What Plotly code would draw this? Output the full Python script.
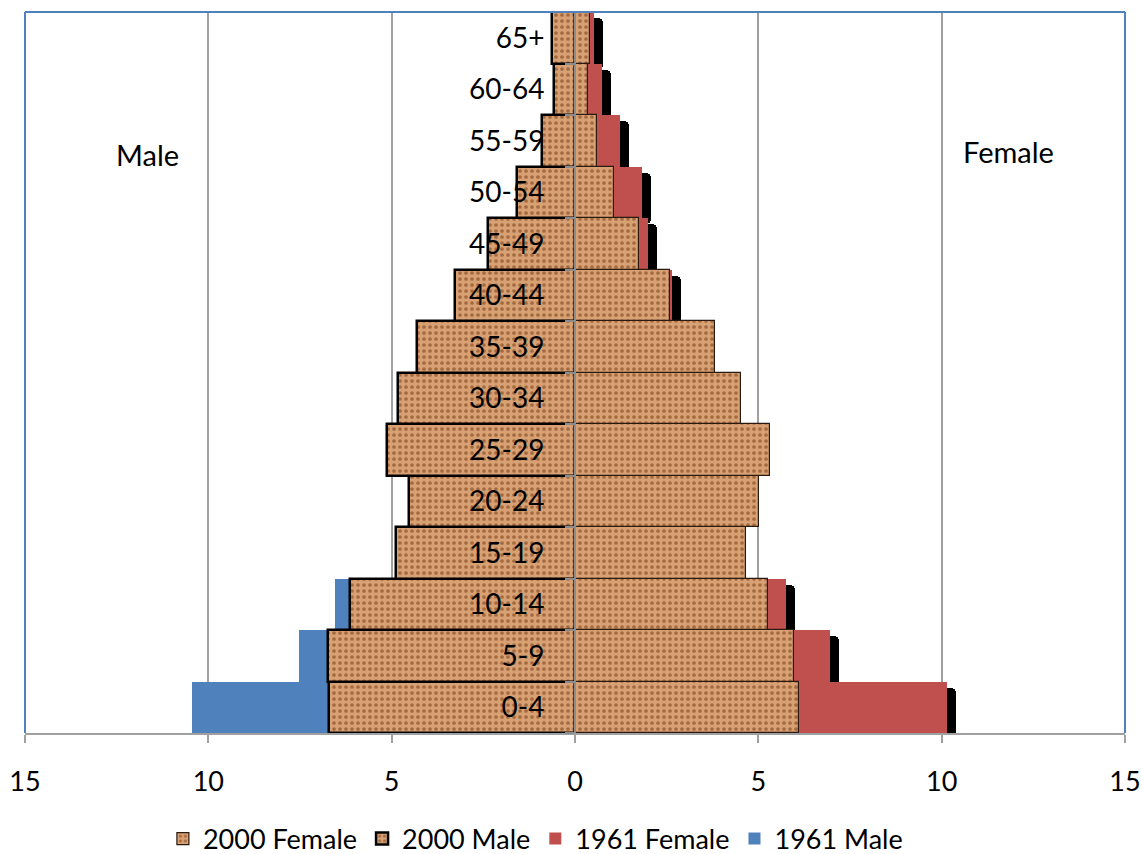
import plotly.graph_objects as go

categories = ["0-4", "5-9", "10-14", "15-19", "20-24", "25-29", "30-34",
              "35-39", "40-44", "45-49", "50-54", "55-59", "60-64", "65+"]

male_2000 = [6.71, 6.75, 6.15, 4.88, 4.53, 5.14, 4.83, 4.32, 3.27, 2.38, 1.59, 0.90, 0.58, 0.63]
female_2000 = [6.12, 5.97, 5.25, 4.66, 5.02, 5.32, 4.53, 3.82, 2.59, 1.75, 1.06, 0.59, 0.36, 0.41]
male_1961 = [10.45, 7.53, 6.55, 4.60, 4.00, 3.80, 3.50, 3.00, 2.60, 2.10, 1.50, 0.93, 0.55, 0.60]
female_1961 = [10.14, 6.95, 5.75, 4.30, 4.40, 4.20, 3.50, 3.00, 2.65, 1.98, 1.83, 1.23, 0.73, 0.52]

tick_vals = [-15, -10, -5, 0, 5, 10, 15]
tick_text = ["15", "10", "5", "0", "5", "10", "15"]

FONT = "Lato"
BLUE = "#4f81bd"
RED = "#c0504d"
GRID = "#a0a0a0"

texture = dict(shape=".", bgcolor="#d8a174", fgcolor="#a3693f",
               size=6, solidity=0.3, fillmode="replace")

fig = go.Figure()

# shadow of 1961 Female series
fig.add_trace(go.Bar(
    y=categories, x=female_1961, base=0.25, orientation="h",
    width=1, offset=-0.62,
    marker=dict(color="black", line=dict(width=0), cornerradius=5),
    showlegend=False, hoverinfo="skip", name="shadow"))

fig.add_trace(go.Bar(
    y=categories, x=[-v for v in male_1961], orientation="h",
    name="1961 Male", marker=dict(color=BLUE, line=dict(width=0))))

fig.add_trace(go.Bar(
    y=categories, x=female_1961, orientation="h",
    name="1961 Female", marker=dict(color=RED, line=dict(width=0))))

fig.add_trace(go.Bar(
    y=categories, x=[-v for v in male_2000], orientation="h",
    name="2000 Male",
    marker=dict(color="#d8a174", pattern=texture,
                line=dict(width=2.5, color="black"))))

fig.add_trace(go.Bar(
    y=categories, x=female_2000, orientation="h",
    name="2000 Female",
    marker=dict(color="#d8a174", pattern=texture,
                line=dict(width=1.2, color="#2a1a10"))))

fig.update_layout(
    width=1142, height=854,
    margin=dict(l=25, r=17, t=12, b=121, autoexpand=False),
    barmode="overlay", bargap=0,
    paper_bgcolor="white", plot_bgcolor="white",
    font=dict(family=FONT, size=28, color="black"),
    showlegend=True,
    legend=dict(orientation="h", traceorder="reversed",
                x=0.464, xanchor="center", y=-0.147, yanchor="middle",
                font=dict(size=27), itemwidth=30, itemclick=False,
                tracegroupgap=0),
    xaxis=dict(range=[-15, 15], tickvals=tick_vals, ticktext=tick_text,
               automargin=False,
               showgrid=True, gridcolor=GRID, gridwidth=1.5,
               zeroline=False, showline=True, linecolor=GRID, linewidth=2,
               ticks="outside", ticklen=8, tickcolor=GRID, tickwidth=1.5,
               ticklabelstandoff=16, tickfont=dict(size=27)),
    yaxis=dict(type="category", categoryorder="array", categoryarray=categories,
               range=[-0.5, 13.5], anchor="free", position=0.5,
               automargin=False,
               showgrid=False, zeroline=False, showline=True,
               linecolor="#8c8c8c", linewidth=2,
               ticks="outside", ticklen=9, tickcolor="#8c8c8c", tickwidth=1.5,
               tickson="boundaries", ticklabelstandoff=24,
               tickfont=dict(size=28)),
    shapes=[
        dict(type="line", xref="paper", yref="paper", x0=0, x1=0, y0=0, y1=1,
             line=dict(color=BLUE, width=2)),
        dict(type="line", xref="paper", yref="paper", x0=1, x1=1, y0=0, y1=1,
             line=dict(color=BLUE, width=2)),
        dict(type="line", xref="paper", yref="paper", x0=0, x1=1, y0=1, y1=1,
             line=dict(color=BLUE, width=2)),
    ],
    annotations=[
        dict(text="Male", xref="paper", yref="paper", x=0.111, y=0.802,
             xanchor="center", yanchor="middle",
             showarrow=False, font=dict(size=29)),
        dict(text="Female", xref="paper", yref="paper", x=0.8945, y=0.806,
             xanchor="center", yanchor="middle",
             showarrow=False, font=dict(size=29)),
    ],
)

fig.write_html("out.html",
               config={"displayModeBar": False},
               post_script="document.body.style.margin='0px';document.body.style.overflow='hidden';")
